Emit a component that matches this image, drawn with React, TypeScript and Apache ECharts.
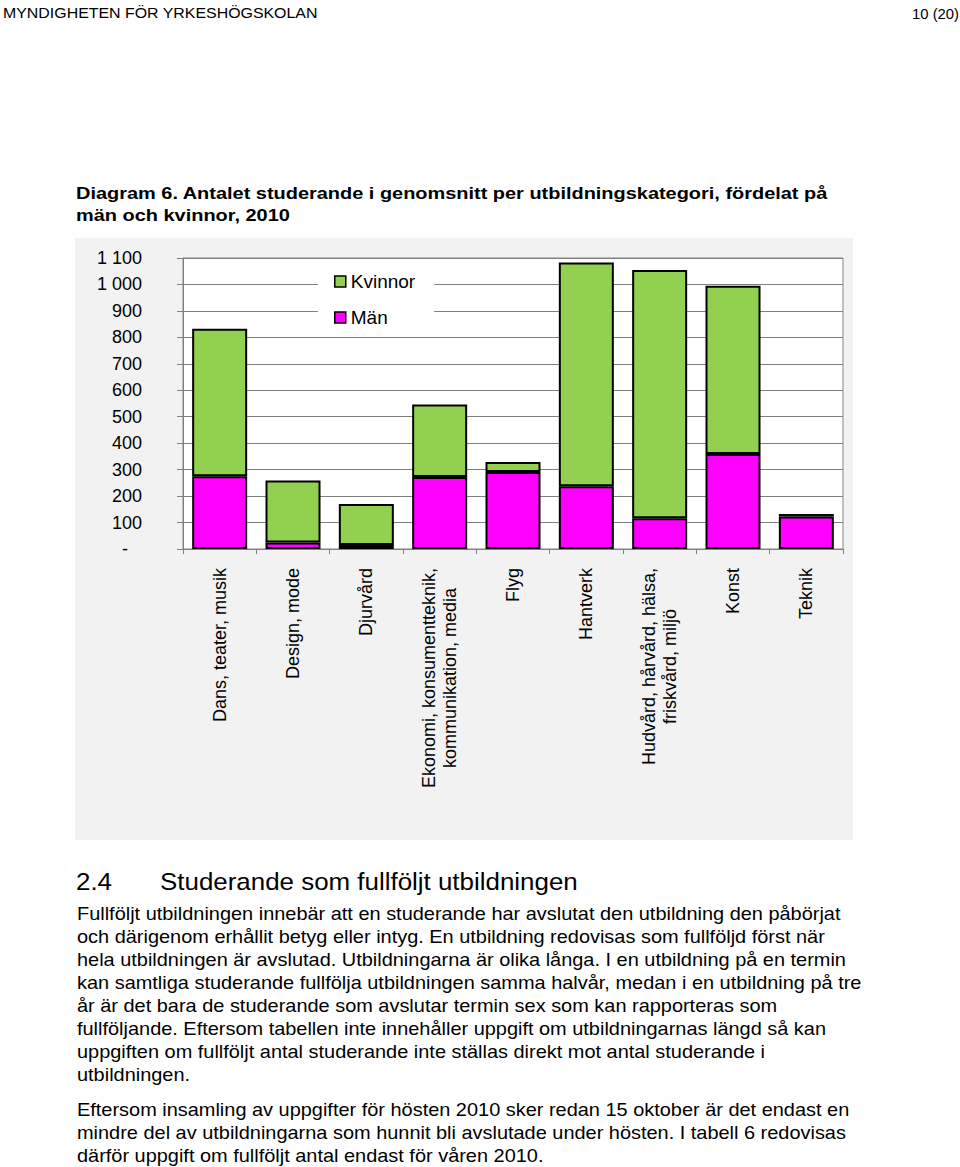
import React, { useEffect, useRef } from "react";
import * as echarts from "echarts";

const categories = [
  "Dans, teater, musik",
  "Design, mode",
  "Djurvård",
  "Ekonomi, konsumentteknik,\nkommunikation, media",
  "Flyg",
  "Hantverk",
  "Hudvård, hårvård, hälsa,\nfriskvård, miljö",
  "Konst",
  "Teknik",
];
const manValues = [275, 25, 15, 272, 291, 237, 116, 359, 123];
const kvinnorValues = [558, 234, 155, 274, 38, 846, 939, 636, 9];
const seriesNames = ["Kvinnor", "Män"];

const headerLeft = "MYNDIGHETEN FÖR YRKESHÖGSKOLAN";
const headerRight = "10 (20)";
const titleLines = [
  "Diagram 6. Antalet studerande i genomsnitt per utbildningskategori, fördelat på",
  "män och kvinnor, 2010",
];
const headingNumber = "2.4";
const headingText = "Studerande som fullföljt utbildningen";
const bodyPara1 = [
  "Fullföljt utbildningen innebär att en studerande har avslutat den utbildning den påbörjat",
  "och därigenom erhållit betyg eller intyg. En utbildning redovisas som fullföljd först när",
  "hela utbildningen är avslutad. Utbildningarna är olika långa. I en utbildning på en termin",
  "kan samtliga studerande fullfölja utbildningen samma halvår, medan i en utbildning på tre",
  "år är det bara de studerande som avslutar termin sex som kan rapporteras som",
  "fullföljande. Eftersom tabellen inte innehåller uppgift om utbildningarnas längd så kan",
  "uppgiften om fullföljt antal studerande inte ställas direkt mot antal studerande i",
  "utbildningen.",
];
const bodyPara2 = [
  "Eftersom insamling av uppgifter för hösten 2010 sker redan 15 oktober är det endast en",
  "mindre del av utbildningarna som hunnit bli avslutade under hösten. I tabell 6 redovisas",
  "därför uppgift om fullföljt antal endast för våren 2010.",
];

const FONT = '"Liberation Sans", Arial, Helvetica, sans-serif';

function measure(text: string, font: string): number {
  const c = document.createElement("canvas");
  const ctx = c.getContext("2d");
  if (!ctx) return 1;
  ctx.font = font;
  return ctx.measureText(text).width || 1;
}

function txt(text: string, x: number, y: number, font: string, scaleX: number, align = "left") {
  return {
    type: "text",
    x,
    y,
    scaleX,
    z: 10,
    style: {
      text,
      font,
      fill: "#000",
      textAlign: align,
      align,
      textVerticalAlign: "middle",
      verticalAlign: "middle",
    },
  };
}

export default function App() {
  const ref = useRef<HTMLDivElement>(null);

  useEffect(() => {
    if (!ref.current) return;
    const chart = echarts.init(ref.current, null, { renderer: "svg" });

    const headerFont = `15.5px ${FONT}`;
    const headerScale = 315 / measure(headerLeft, headerFont);
    const pageFont = `15.5px ${FONT}`;
    const pageScale = 47 / measure(headerRight, pageFont);
    const titleFont = `bold 17px ${FONT}`;
    const titleScale = 753 / measure(titleLines[0], titleFont);
    const headFont = `24px ${FONT}`;
    const headScale = 418 / measure(headingText, headFont);
    const bodyFont = `18px ${FONT}`;
    const bodyScale = 764 / measure(bodyPara1[0], bodyFont);

    const graphics: any[] = [
      {
        type: "rect",
        z: -5,
        shape: { x: 75, y: 238, width: 778, height: 602 },
        style: { fill: "#f2f2f2" },
      },
      txt(headerLeft, 3, 13, headerFont, headerScale),
      txt(headerRight, 959, 13, pageFont, pageScale, "right"),
      txt(titleLines[0], 76, 193, titleFont, titleScale),
      txt(titleLines[1], 76, 215, titleFont, titleScale),
      txt(headingNumber, 76, 881, headFont, headScale),
      txt(headingText, 160, 881, headFont, headScale),
    ];
    bodyPara1.forEach((l, i) => graphics.push(txt(l, 77, 914 + i * 23, bodyFont, bodyScale)));
    bodyPara2.forEach((l, i) => graphics.push(txt(l, 77, 1110 + i * 23, bodyFont, bodyScale)));

    const option: any = {
      animation: false,
      textStyle: { fontFamily: FONT },
      graphic: graphics,
      grid: {
        left: 183,
        top: 258,
        right: 117,
        bottom: 618,
        show: true,
        backgroundColor: "#fff",
        borderColor: "#888",
        borderWidth: 1,
      },
      legend: {
        data: seriesNames,
        orient: "vertical",
        left: 318,
        top: 264,
        backgroundColor: "#fff",
        padding: [8, 19, 8, 16],
        itemWidth: 11,
        itemHeight: 11,
        itemGap: 17,
        icon: "rect",
        textStyle: { fontSize: 19, color: "#000", fontFamily: FONT },
        itemStyle: { borderColor: "#000", borderWidth: 1.5 },
      },
      xAxis: {
        type: "category",
        data: categories,
        axisLine: { show: true, lineStyle: { color: "#808080", width: 1 } },
        axisTick: { show: true, length: 5, lineStyle: { color: "#808080" } },
        axisLabel: {
          interval: 0,
          rotate: 90,
          margin: 19,
          fontSize: 18,
          color: "#000",
          fontFamily: FONT,
          lineHeight: 21,
          formatter: (v: string) =>
            v.indexOf("\n") >= 0
              ? v
                  .split("\n")
                  .map((s) => `{c|${s}}`)
                  .join("\n")
              : v,
          rich: {
            c: { align: "center", fontSize: 18, color: "#000", fontFamily: FONT, lineHeight: 21 },
          },
        },
      },
      yAxis: {
        type: "value",
        min: 0,
        max: 1100,
        interval: 100,
        axisLine: { show: true, lineStyle: { color: "#808080", width: 1 } },
        axisTick: { show: true, length: 6, lineStyle: { color: "#808080" } },
        splitLine: { show: true, lineStyle: { color: "#808080", width: 1 } },
        axisLabel: {
          margin: 41,
          fontSize: 18,
          color: "#000",
          fontFamily: FONT,
          formatter: (v: number) => {
            if (v === 0) return "{d|-}";
            if (v >= 1000) return `${Math.floor(v / 1000)} ${String(v % 1000).padStart(3, "0")}`;
            return String(v);
          },
          rich: {
            d: { padding: [0, 14, 0, 0], fontSize: 18, color: "#000", fontFamily: FONT },
          },
        },
      },
      series: [
        {
          name: "Män",
          type: "bar",
          stack: "total",
          data: manValues,
          barCategoryGap: "25%",
          itemStyle: { color: "#ff00ff", borderColor: "#000", borderWidth: 2 },
        },
        {
          name: "Kvinnor",
          type: "bar",
          stack: "total",
          data: kvinnorValues,
          barCategoryGap: "25%",
          itemStyle: { color: "#92d050", borderColor: "#000", borderWidth: 2 },
        },
      ],
    };

    chart.setOption(option);
    return () => chart.dispose();
  }, []);

  return (
    <div
      ref={ref}
      style={{ position: "absolute", left: 0, top: 0, width: 960, height: 1167, background: "#fff" }}
    />
  );
}
